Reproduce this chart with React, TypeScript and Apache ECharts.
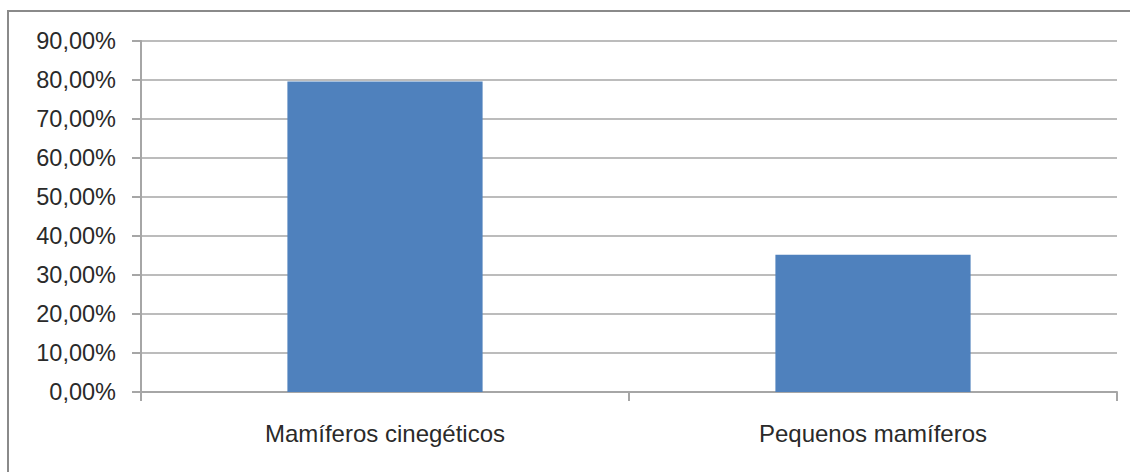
import React, { useEffect, useRef } from "react";
import * as echarts from "echarts";

const categories = ["Mamíferos cinegéticos", "Pequenos mamíferos"];
const values = [79.6, 35.2];
const yMin = 0;
const yMax = 90;
const yStep = 10;

export default function App() {
  const ref = useRef<HTMLDivElement>(null);
  useEffect(() => {
    if (!ref.current) return;
    const chart = echarts.init(ref.current, null, { renderer: "svg" });
    chart.setOption({
      animation: false,
      backgroundColor: "#ffffff",
      graphic: [
        {
          type: "polyline",
          shape: { points: [[8, 480], [8, 11], [1135, 11]] },
          style: { stroke: "#8a8a8a", lineWidth: 2, fill: null },
          silent: true,
        },
      ],
      grid: { left: 141, right: 13, top: 41, bottom: 80, containLabel: false },
      xAxis: {
        type: "category",
        data: categories,
        axisLine: { show: true, lineStyle: { color: "#a6a6a6", width: 2 } },
        axisTick: { show: true, length: 9, lineStyle: { color: "#a6a6a6", width: 2 } },
        axisLabel: {
          margin: 29,
          fontFamily: "Liberation Sans",
          fontSize: 24,
          color: "#2a2a2a",
        },
      },
      yAxis: {
        type: "value",
        min: yMin,
        max: yMax,
        interval: yStep,
        axisLine: { show: true, lineStyle: { color: "#a6a6a6", width: 2 } },
        axisTick: { show: true, length: 9, lineStyle: { color: "#a6a6a6", width: 2 } },
        splitLine: { show: true, lineStyle: { color: "#bcbcbc", width: 2 } },
        axisLabel: {
          margin: 25,
          fontFamily: "Liberation Sans",
          fontSize: 23.5,
          color: "#2a2a2a",
          formatter: (v: number) => v.toFixed(2).replace(".", ",") + "%",
        },
      },
      series: [
        {
          type: "bar",
          data: values,
          barWidth: "40%",
          itemStyle: { color: "#4f81bd" },
        },
      ],
    });
    return () => chart.dispose();
  }, []);
  return (
    <div
      ref={ref}
      style={{ position: "fixed", left: 0, top: 0, width: 1130, height: 472 }}
    />
  );
}
